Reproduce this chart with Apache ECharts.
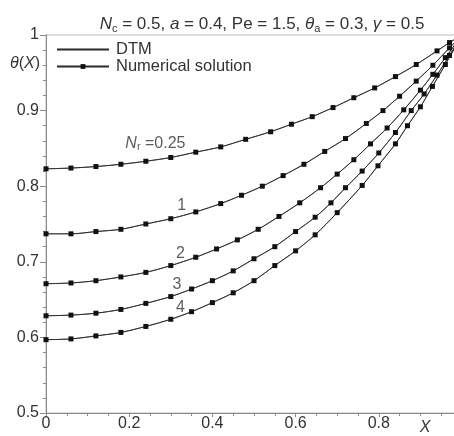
<!DOCTYPE html>
<html>
<head>
<meta charset="utf-8">
<script src="https://cdn.jsdelivr.net/npm/echarts@6/dist/echarts.min.js"></script>
<style>html,body{margin:0;padding:0;background:#fff;}#c{width:454px;height:436px;}</style>
</head>
<body>
<div id="c"></div>
<script>
// Nr = 0.25
const X025 = [0,0.06,0.12,0.18,0.24,0.30,0.36,0.42,0.48,0.54,0.59,0.64,0.69,0.74,0.79,0.84,0.89,0.94,0.97,1];
const T025 = [0.823,0.824,0.826,0.829,0.833,0.838,0.845,0.852,0.862,0.872,0.882,0.892,0.904,0.917,0.930,0.945,0.961,0.979,0.990,1.0];
// Nr = 1
const X1 = [0,0.06,0.12,0.18,0.24,0.30,0.36,0.42,0.47,0.52,0.57,0.62,0.67,0.72,0.77,0.81,0.85,0.89,0.93,0.97,1];
const T1 = [0.737,0.737,0.740,0.743,0.750,0.757,0.766,0.777,0.788,0.800,0.814,0.829,0.846,0.863,0.883,0.900,0.919,0.939,0.960,0.983,1.0];
// Nr = 2
const X2 = [0,0.06,0.12,0.18,0.24,0.30,0.36,0.41,0.46,0.51,0.56,0.61,0.66,0.70,0.74,0.78,0.82,0.86,0.90,0.93,0.96,1];
const T2 = [0.671,0.672,0.675,0.680,0.686,0.695,0.706,0.717,0.729,0.743,0.760,0.778,0.798,0.816,0.835,0.856,0.877,0.901,0.927,0.948,0.970,1.0];
// Nr = 3
const X3 = [0,0.06,0.12,0.18,0.24,0.30,0.35,0.40,0.45,0.50,0.55,0.60,0.647,0.685,0.72,0.76,0.80,0.84,0.878,0.909,0.94,0.97,1];
const T3 = [0.6286,0.6295,0.632,0.637,0.645,0.654,0.664,0.675,0.688,0.704,0.720,0.740,0.759,0.778,0.798,0.820,0.844,0.871,0.900,0.922,0.947,0.973,1.0];
// Nr = 4
const X4 = [0,0.06,0.12,0.18,0.24,0.30,0.35,0.40,0.45,0.50,0.55,0.60,0.647,0.70,0.76,0.798,0.84,0.869,0.90,0.929,0.96,1];
const T4 = [0.597,0.598,0.602,0.6066,0.6145,0.624,0.634,0.646,0.659,0.675,0.695,0.7145,0.7357,0.765,0.801,0.827,0.856,0.880,0.905,0.932,0.961,1.0];

// curve labels: [X, theta, text]
const curveLabels = [
  [0.263, 0.857, '{i|N}{sub|r} =0.25'],
  [0.326, 0.774, '1'],
  [0.323, 0.711, '2'],
  [0.315, 0.670, '3'],
  [0.323, 0.639, '4']
];

const FONT = 'Liberation Sans';
const LINE = '#2a2a2a';
const AXIS = '#8a8a8a';
const TXT = '#333';

const curves = [[X025,T025],[X1,T1],[X2,T2],[X3,T3],[X4,T4]];
const zip = (xs, ys) => xs.map((x, i) => [x, ys[i]]);

const series = [];
curves.forEach(([xs, ys]) => {
  series.push({
    name: 'DTM', type: 'line', data: zip(xs, ys), smooth: 0.3,
    symbol: 'none', lineStyle: {color: LINE, width: 1}, itemStyle: {color: LINE}, z: 2
  });
});
curves.forEach(([xs, ys]) => {
  series.push({
    name: 'Numerical solution', type: 'line', data: zip(xs, ys), smooth: 0.3,
    symbol: 'rect', symbolSize: 5, showSymbol: true,
    lineStyle: {color: LINE, width: 0.6}, itemStyle: {color: '#111'}, z: 3
  });
});
series.push({
  type: 'scatter', data: curveLabels, symbolSize: 1, itemStyle: {color: 'rgba(0,0,0,0)'},
  label: {
    show: true, position: 'inside', formatter: p => p.data[2],
    fontFamily: FONT, fontSize: 16, color: TXT,
    rich: {
      i: {fontStyle: 'italic', fontFamily: FONT, fontSize: 16, color: TXT},
      sub: {fontFamily: FONT, fontSize: 11, color: TXT, padding: [7, 0, 0, 0]}
    }
  },
  z: 5
});

const chart = echarts.init(document.getElementById('c'));
chart.setOption({
  animation: false,
  backgroundColor: '#fff',
  title: {
    text: '{i|N}{sub|c} = 0.5, {i|a} = 0.4, Pe = 1.5, {i|θ}{sub|a} = 0.3, {i|γ} = 0.5',
    left: 257, top: 9, textAlign: 'center',
    textStyle: {
      fontFamily: FONT, fontSize: 17, fontWeight: 'normal', color: TXT,
      rich: {
        i: {fontStyle: 'italic', fontFamily: FONT, fontSize: 17, color: TXT},
        sub: {fontFamily: FONT, fontSize: 11, color: TXT, padding: [9, 0, 0, 0]}
      }
    }
  },
  legend: {
    data: [
      {name: 'DTM', itemStyle: {opacity: 0}},
      {name: 'Numerical solution'}
    ],
    orient: 'vertical', left: 51, top: 36, itemWidth: 52, itemHeight: 6, itemGap: 0,
    textStyle: {fontFamily: FONT, fontSize: 16.5, color: TXT, lineHeight: 17, padding: [0, 0, 0, 2]}
  },
  grid: {left: 46, right: -8, top: 35, bottom: 23, show: true, borderColor: '#bbb', borderWidth: 1,
         outerBoundsMode: 'none', containLabel: false},
  xAxis: {
    type: 'value', min: 0, max: 1, interval: 0.2,
    axisLine: {show: true, lineStyle: {color: AXIS}},
    axisTick: {show: true, length: 4, lineStyle: {color: AXIS}},
    minorTick: {show: true, splitNumber: 4, length: 3, lineStyle: {color: AXIS}},
    splitLine: {show: false},
    axisLabel: {fontFamily: FONT, fontSize: 16, color: TXT, margin: 3}
  },
  yAxis: {
    type: 'value', min: 0.5, max: 1, interval: 0.1,
    axisLine: {show: true, lineStyle: {color: AXIS}},
    axisTick: {show: true, length: 6, lineStyle: {color: AXIS}},
    minorTick: {show: true, splitNumber: 5, length: 3, lineStyle: {color: AXIS}},
    splitLine: {show: false},
    axisLabel: {fontFamily: FONT, fontSize: 16, color: TXT, margin: 7}
  },
  graphic: [
    {type: 'text', x: 40, y: 64, style: {
      text: '{i|θ}({i|X})', align: 'right', verticalAlign: 'middle', fill: TXT,
      font: '16px ' + FONT,
      rich: {i: {fontStyle: 'italic', fontSize: 16, fontFamily: FONT, fill: TXT, color: TXT}}
    }},
    {type: 'text', x: 425, y: 428, style: {
      text: 'X', align: 'center', verticalAlign: 'middle', fill: TXT,
      font: 'italic 16px ' + FONT
    }}
  ],
  series: series
});
</script>
</body>
</html>
